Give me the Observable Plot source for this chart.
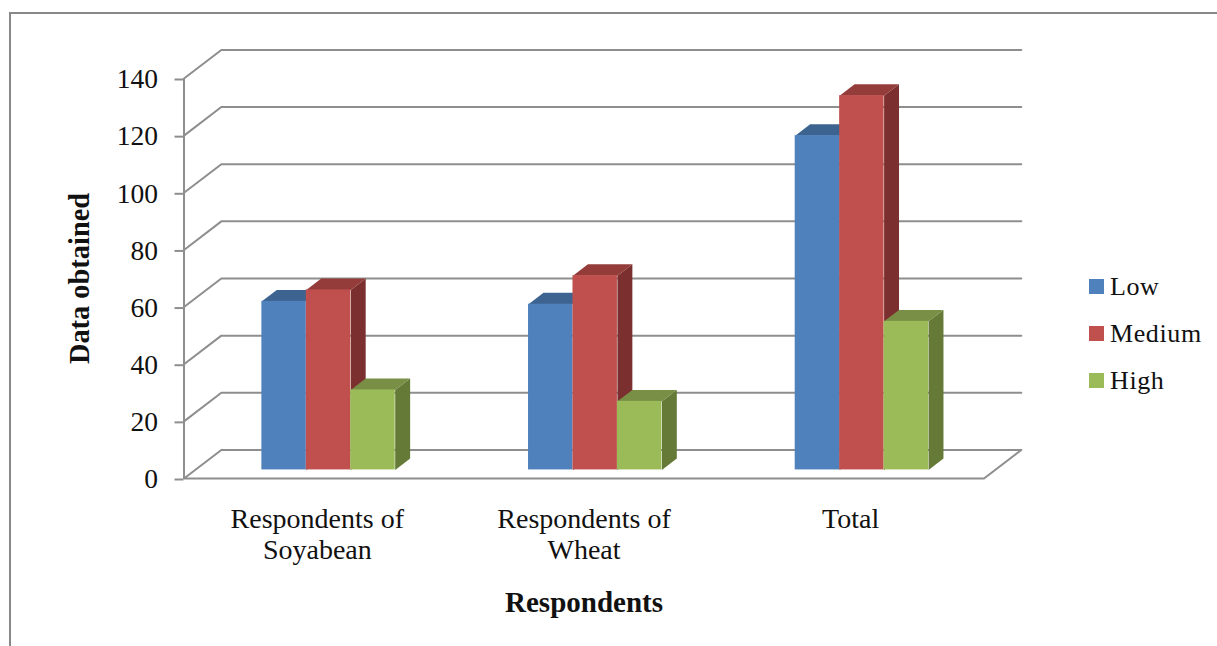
<!DOCTYPE html>
<html>
<head>
<meta charset="utf-8">
<script src="https://cdn.jsdelivr.net/npm/d3@7"></script>
<script src="https://cdn.jsdelivr.net/npm/@observablehq/plot@0.6"></script>
<style>
  html, body { margin: 0; padding: 0; background: #fff; overflow: hidden; }
  #page { position: relative; width: 1217px; height: 646px; overflow: hidden; font-family: "Liberation Serif", serif; color: #111; }
  #border { position: absolute; left: 9px; top: 12px; width: 1300px; height: 800px; border-top: 2px solid #888; border-left: 2px solid #888; }
  #legend { position: absolute; left: 1089px; top: 263px; }
  #legend div.row { display: flex; align-items: center; height: 47px; font-size: 26px; letter-spacing: 0.6px; }
  #legend span.swatch { width: 15px; height: 15px; margin-right: 6px; display: inline-block; }
  #chart { position: absolute; left: 0; top: 0; }
</style>
</head>
<body>
<div id="page">
  <div id="border"></div>
  <div id="chart"></div>
  <div id="legend"></div>
</div>
<script>
const categories = ["Respondents of\nSoyabean", "Respondents of\nWheat", "Total"];
const seriesNames = ["Low", "Medium", "High"];
const lowValues = [59, 58, 117];
const mediumValues = [63, 68, 131];
const highValues = [28, 24, 52];
const yTicks = [0, 20, 40, 60, 80, 100, 120, 140];

const seriesValues = [lowValues, mediumValues, highValues];
const frontColors = ["#4f81bd", "#c0504d", "#9bbb59"];
const topColors = ["#3d6491", "#943c3a", "#788f45"];
const sideColors = ["#305074", "#7b302f", "#647a36"];

// Oblique projection: one unit of depth moves a point along both data axes.
const depthX = 0.14;
const depthY = 10;
const project = (u, v, d) => ({x: u + d * depthX, y: v + d * depthY});

const barWidth = 1 / 6;
const groupStart = 0.25;
const depthNear = 0.3;
const depthFar = 0.7;

const gridColor = "#8e8e8e";

// Wall and side-wall gridlines, each running from the front edge to the back wall.
const gridPaths = yTicks.filter((v) => v > 0).flatMap((v) => [
  {...project(0, v, 0), v},
  {...project(0, v, 1), v},
  {...project(categories.length, v, 1), v}
]);
const floorPath = [
  project(0, 0, 1),
  project(0, 0, 0),
  project(categories.length, 0, 0),
  project(categories.length, 0, 1),
  project(0, 0, 1)
];

function barMarks(values, s) {
  const boxes = values.map((value, c) => {
    const x0 = c + groupStart + s * barWidth;
    return {id: c, x0, x1: x0 + barWidth, value};
  });
  const side = boxes.flatMap((b) => [
    {...project(b.x1, 0, depthNear), id: b.id},
    {...project(b.x1, b.value, depthNear), id: b.id},
    {...project(b.x1, b.value, depthFar), id: b.id},
    {...project(b.x1, 0, depthFar), id: b.id}
  ]);
  const top = boxes.flatMap((b) => [
    {...project(b.x0, b.value, depthNear), id: b.id},
    {...project(b.x0, b.value, depthFar), id: b.id},
    {...project(b.x1, b.value, depthFar), id: b.id},
    {...project(b.x1, b.value, depthNear), id: b.id}
  ]);
  const front = boxes.map((b) => ({
    x1: project(b.x0, 0, depthNear).x,
    x2: project(b.x1, 0, depthNear).x,
    y1: project(b.x0, 0, depthNear).y,
    y2: project(b.x0, b.value, depthNear).y
  }));
  return [
    Plot.line(side, {x: "x", y: "y", z: "id", fill: sideColors[s], stroke: "none"}),
    Plot.line(top, {x: "x", y: "y", z: "id", fill: topColors[s], stroke: "none"}),
    Plot.rect(front, {x1: "x1", x2: "x2", y1: "y1", y2: "y2", fill: frontColors[s], inset: 0})
  ];
}

const chart = Plot.plot({
  width: 1217,
  height: 646,
  marginLeft: 183.5,
  marginRight: 233.5,
  marginTop: 78,
  marginBottom: 168,
  x: {domain: [0, categories.length], axis: null},
  y: {domain: [0, 140], axis: null},
  style: {fontFamily: "Liberation Serif", fontSize: "28px", color: "#111", background: "transparent", overflow: "visible"},
  marks: [
    Plot.line(gridPaths, {x: "x", y: "y", z: "v", stroke: gridColor, strokeWidth: 2}),
    Plot.line(floorPath, {x: "x", y: "y", stroke: gridColor, strokeWidth: 2}),
    Plot.ruleX([0], {y1: 0, y2: 140, stroke: gridColor, strokeWidth: 2}),
    Plot.axisY({ticks: yTicks, tickSize: 9, tickPadding: 17, label: null, stroke: gridColor, strokeWidth: 2, fill: "#111", textStroke: "none", fontVariant: "normal", fontSize: 27.5, dy: 1}),
    ...seriesValues.flatMap(barMarks),
    Plot.text(categories, {
      x: (d, i) => i + 0.5,
      y: 0,
      text: (d) => d,
      dy: 27,
      lineAnchor: "top",
      lineHeight: 1.11,
      textAnchor: "middle",
      fill: "#111",
      fontSize: 28
    }),
    Plot.text(["Respondents"], {
      x: categories.length / 2,
      y: 0,
      dy: 124,
      fontWeight: "bold",
      fontSize: 29,
      fill: "#111"
    }),
    Plot.text(["Data obtained"], {
      x: 0,
      y: 70,
      dx: -104,
      rotate: -90,
      fontWeight: "bold",
      fontSize: 28.4,
      fill: "#111"
    })
  ]
});
document.getElementById("chart").append(chart);

// Series key beside the plot.
const legend = d3.select("#legend");
seriesNames.forEach((name, i) => {
  const row = legend.append("div").attr("class", "row");
  row.append("span").attr("class", "swatch").style("background", frontColors[i]);
  row.append("span").text(name);
});
</script>
</body>
</html>
